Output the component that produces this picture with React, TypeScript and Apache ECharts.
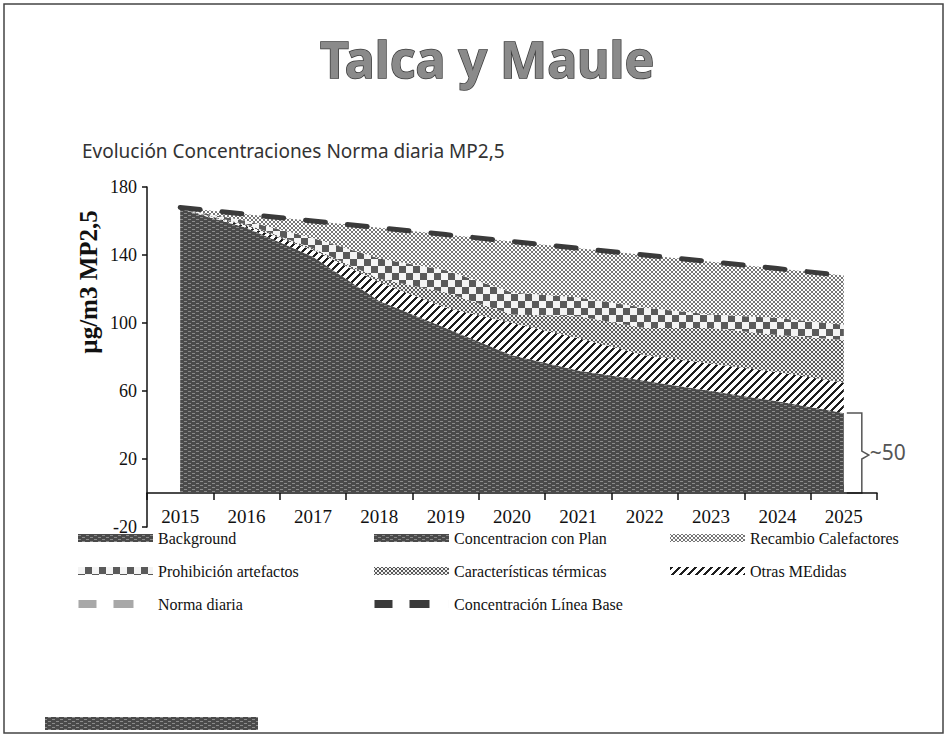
import React, { useEffect, useRef } from "react";
import * as echarts from "echarts";

// ---- data ----
const years = ["2015", "2016", "2017", "2018", "2019", "2020", "2021", "2022", "2023", "2024", "2025"];
const background = [5, 5, 5, 5, 5, 5, 5, 5, 5, 5, 5];
const concentracionConPlan = [167, 156, 139, 113, 97, 81, 72, 66, 60, 54, 47];
const otrasMedidas = [0, 1, 4, 11, 12, 19, 19, 15, 16, 17, 18];
const caracteristicasTermicas = [0, 1, 1, 2, 9, 5, 13, 16, 21, 22, 25];
const prohibicionArtefactos = [0, 2, 6, 12, 13, 13, 11, 12, 8, 10, 9];
const recambioCalefactores = [1, 4, 10, 18, 21, 30, 29, 31, 31, 29, 29];
const normaDiaria = [50, 50, 50, 50, 50, 50, 50, 50, 50, 50, 50];
const lineaBase = [168, 164, 160, 156, 152, 148, 144, 140, 136, 132, 128];
const yMin = -20;
const yMax = 180;
const yStep = 40;
const bracketLabel = "~50";

function makePattern(w: number, h: number, draw: (ctx: CanvasRenderingContext2D) => void): any {
  const c = document.createElement("canvas");
  c.width = w;
  c.height = h;
  const ctx = c.getContext("2d") as CanvasRenderingContext2D;
  draw(ctx);
  return { image: c, repeat: "repeat", imageWidth: w, imageHeight: h };
}

function buildPatterns() {
  const dark = makePattern(8, 4, (ctx) => {
    ctx.fillStyle = "#4a4a4a";
    ctx.fillRect(0, 0, 8, 4);
    ctx.fillStyle = "#8c8c8c";
    ctx.fillRect(0, 1, 3, 1);
    ctx.fillRect(4, 3, 3, 1);
  });
  const hatch = makePattern(8, 8, (ctx) => {
    ctx.fillStyle = "#ffffff";
    ctx.fillRect(0, 0, 8, 8);
    ctx.fillStyle = "#1e1e1e";
    for (let x = 0; x < 8; x++) for (let y = 0; y < 8; y++) if ((x + y) % 8 < 3) ctx.fillRect(x, y, 1, 1);
  });
  const cross = (dk: string, bg: string, n: number) =>
    makePattern(n, n, (ctx) => {
      ctx.fillStyle = bg;
      ctx.fillRect(0, 0, n, n);
      ctx.fillStyle = dk;
      for (let i = 0; i < n; i++) {
        ctx.fillRect(i, i, 1, 1);
        ctx.fillRect(n - 1 - i, i, 1, 1);
      }
    });
  const caract = cross("#5a5a5a", "#f2f2f2", 4);
  const recambio = cross("#767676", "#ffffff", 4);
  const checker = makePattern(14, 14, (ctx) => {
    ctx.fillStyle = "#f4f4f4";
    ctx.fillRect(0, 0, 14, 14);
    ctx.fillStyle = "#5a5a5a";
    ctx.fillRect(7, 0, 7, 7);
    ctx.fillRect(0, 7, 7, 7);
  });
  return { dark, hatch, caract, recambio, checker };
}

export default function App() {
  const ref = useRef<HTMLDivElement>(null);

  useEffect(() => {
    if (!ref.current) return;
    const chart = echarts.init(ref.current, undefined, { renderer: "svg" });
    const p = buildPatterns();
    const dashIcon = "path://M0 0h18v8h-18zM35 0h20v8h-20zM74 0h0.01v8h-0.01z";
    const legendCommon = {
      orient: "vertical",
      top: 530,
      itemWidth: 75,
      itemHeight: 8,
      itemGap: 17,
      padding: 0,
      selectedMode: false,
      textStyle: { fontFamily: "Liberation Serif", fontSize: 16, color: "#111" },
    };
    const areaSeries = (name: string, data: number[], color: any, stack: boolean) => ({
      name,
      type: "line",
      data,
      stack: stack ? "total" : undefined,
      symbol: "none",
      smooth: false,
      lineStyle: { width: 0 },
      itemStyle: { color: "#666" },
      areaStyle: { color, opacity: 1 },
      z: 2,
    });

    chart.setOption({
      animation: false,
      backgroundColor: "#ffffff",
      title: [
        {
          text: "Talca y Maule",
          left: 320,
          top: 34,
          padding: 0,
          textStyle: {
            fontFamily: "Noto Sans",
            fontWeight: "bold",
            fontSize: 50,
            color: "#8a8a8a",
            textBorderColor: "#3a3a3a",
            textBorderWidth: 1.5,
          },
        },
        {
          text: "Evolución Concentraciones Norma diaria MP2,5",
          left: 82,
          top: 141,
          padding: 0,
          textStyle: { fontFamily: "Noto Sans", fontWeight: "normal", fontSize: 19, color: "#333" },
        },
      ],
      grid: { left: 147, top: 187, width: 730, height: 340, containLabel: false },
      xAxis: {
        type: "category",
        data: years,
        boundaryGap: true,
        axisLine: { onZero: true, lineStyle: { color: "#111", width: 1.5 } },
        axisTick: { show: true, length: 7, inside: false, alignWithLabel: false, lineStyle: { color: "#111", width: 1.5 } },
        axisLabel: { margin: -20, fontFamily: "Liberation Serif", fontSize: 19, color: "#111" },
        splitLine: { show: false },
      },
      yAxis: {
        type: "value",
        min: yMin,
        max: yMax,
        interval: yStep,
        axisLine: { show: true, lineStyle: { color: "#111", width: 1.5 } },
        axisTick: { show: true, length: 5, lineStyle: { color: "#111", width: 1.5 } },
        axisLabel: { margin: 10, fontFamily: "Liberation Serif", fontSize: 18, color: "#111" },
        splitLine: { show: false },
      },
      legend: [
        {
          ...legendCommon,
          left: 78,
          data: [
            { name: "Background", icon: "rect", itemStyle: { color: p.dark } },
            { name: "Prohibición artefactos", icon: "rect", itemStyle: { color: p.checker } },
            { name: "Norma diaria", icon: dashIcon, itemStyle: { color: "#a8a8a8" } },
          ],
        },
        {
          ...legendCommon,
          left: 374,
          data: [
            { name: "Concentracion con Plan", icon: "rect", itemStyle: { color: p.dark } },
            { name: "Características térmicas", icon: "rect", itemStyle: { color: p.caract } },
            { name: "Concentración Línea Base", icon: dashIcon, itemStyle: { color: "#3a3a3a" } },
          ],
        },
        {
          ...legendCommon,
          left: 670,
          data: [
            { name: "Recambio Calefactores", icon: "rect", itemStyle: { color: p.recambio } },
            { name: "Otras MEdidas", icon: "rect", itemStyle: { color: p.hatch } },
          ],
        },
      ],
      series: [
        {
          name: "Norma diaria",
          type: "line",
          data: normaDiaria,
          symbol: "none",
          itemStyle: { color: "#a8a8a8" },
          lineStyle: { color: "#a8a8a8", width: 5, type: [18, 22] },
          z: 1,
        },
        areaSeries("Concentracion con Plan", concentracionConPlan, p.dark, true),
        areaSeries("Background", background, p.dark, false),
        areaSeries("Otras MEdidas", otrasMedidas, p.hatch, true),
        areaSeries("Características térmicas", caracteristicasTermicas, p.caract, true),
        areaSeries("Prohibición artefactos", prohibicionArtefactos, p.checker, true),
        areaSeries("Recambio Calefactores", recambioCalefactores, p.recambio, true),
        {
          name: "Concentración Línea Base",
          type: "line",
          data: lineaBase,
          symbol: "none",
          itemStyle: { color: "#3a3a3a" },
          lineStyle: { color: "#3a3a3a", width: 5, type: [20, 22], cap: "round" },
          z: 5,
        },
      ],
    });

    const last = years.length - 1;
    const top = chart.convertToPixel({ xAxisIndex: 0, yAxisIndex: 0 }, [last, concentracionConPlan[last]]) as number[];
    const bot = chart.convertToPixel({ xAxisIndex: 0, yAxisIndex: 0 }, [last, 0]) as number[];
    const x0 = top[0] + 3;
    const xb = top[0] + 18;
    const ym = (top[1] + bot[1]) / 2 + 2;

    chart.setOption({
      graphic: [
        {
          type: "rect",
          shape: { x: 4, y: 4, width: 939, height: 729 },
          style: { fill: "none", stroke: "#444", lineWidth: 1.5 },
          silent: true,
        },
        {
          type: "rect",
          shape: { x: 45, y: 717, width: 213, height: 13 },
          style: { fill: p.dark },
          silent: true,
        },
        {
          type: "text",
          x: 88,
          y: 282,
          rotation: Math.PI / 2,
          style: {
            text: "µg/m3 MP2,5",
            font: 'bold 25px "Liberation Serif"',
            fill: "#111",
            align: "center",
            verticalAlign: "middle",
          },
        },
        {
          type: "polyline",
          shape: {
            points: [
              [x0, top[1]],
              [xb, top[1]],
              [xb, ym - 4],
              [xb + 7, ym],
              [xb, ym + 4],
              [xb, bot[1]],
              [x0, bot[1]],
            ],
          },
          style: { fill: "none", stroke: "#555", lineWidth: 1.5 },
        },
        {
          type: "text",
          x: xb + 8,
          y: ym - 3,
          style: {
            text: bracketLabel,
            font: '21px "Noto Sans"',
            fill: "#555",
            align: "left",
            verticalAlign: "middle",
          },
        },
      ],
    });

    return () => chart.dispose();
  }, []);

  return (
    <div
      ref={ref}
      style={{ position: "fixed", left: 0, top: 0, width: 947, height: 736, background: "#fff" }}
    />
  );
}
